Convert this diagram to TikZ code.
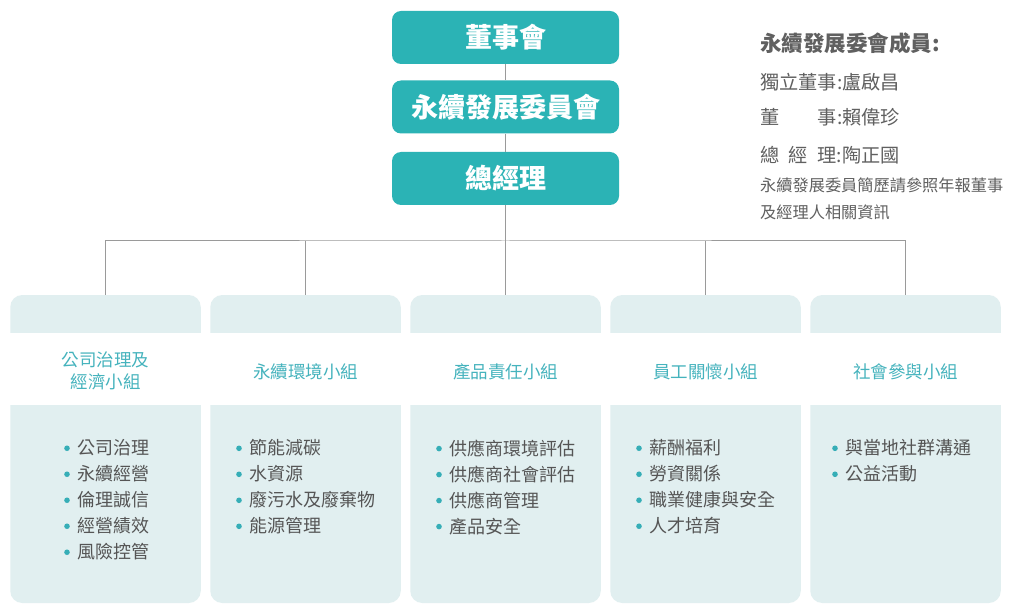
\documentclass[tikz,border=0pt]{standalone}
\usepackage{fontspec}
\setmainfont{Noto Sans CJK TC}
\definecolor{teal1}{HTML}{2BB3B5}
\definecolor{pale}{HTML}{E1EFF0}
\definecolor{headc}{HTML}{45B3BD}
\definecolor{bodyc}{HTML}{555555}
\definecolor{sidec}{HTML}{606060}
\definecolor{bul}{HTML}{36AEB7}
\definecolor{linec}{HTML}{9A9A9A}
\newcommand\bl{\tikz[baseline=0pt,x=1pt,y=1pt]\fill[bul](2.8,6.6) circle (2.8);\hspace{8pt}}
\begin{document}
\begin{tikzpicture}[x=1pt,y=-1pt,
  topbox/.style={fill=teal1, rounded corners=9pt, minimum width=227pt, minimum height=53pt, inner sep=0pt, text=white, font=\bfseries\fontsize{27}{30}\selectfont},
  colbox/.style={fill=pale, rounded corners=12pt, minimum width=190.5pt, minimum height=308pt, inner sep=0pt},
  headtxt/.style={text=headc, align=center, inner sep=0pt, font=\fontsize{17.5}{22}\selectfont},
  listtxt/.style={text=bodyc, align=left, inner sep=0pt, anchor=north, font=\fontsize{18}{26}\selectfont},
  sidetxt/.style={text=sidec, anchor=west, inner sep=0pt},
  conn/.style={draw=linec, line width=1pt}]
\fill[white] (0,0) rectangle (1014,612);
\useasboundingbox (0,0) rectangle (1014,612);

% top boxes
\node[topbox] (b1) at (505.5,37.5) {董事會};
\node[topbox] (b2) at (505.5,107) {永續發展委員會};
\node[topbox] (b3) at (505.5,178.5) {總經理};

% columns
\foreach \i/\cx in {1/105.5,2/305.5,3/505.5,4/705.5,5/905.5}{
  \node[colbox] (c\i) at (\cx,449) {};
  \fill[white] (c\i.west |- 0,333) rectangle (c\i.east |- 0,405);
}

% connectors
\coordinate (bus) at (505.5,241);
\draw[conn] (b1) -- (b2);
\draw[conn] (b2) -- (b3);
\draw[conn] (b3) -- (c3);
\draw[conn] (c1.north) |- (bus) -| (c5.north);
\draw[conn] (c2.north) -- (c2.north |- bus);
\draw[conn] (c4.north) -- (c4.north |- bus);

% headers
\node[headtxt] (h1) at (105.5,371) {公司治理及\\經濟小組};
\node[headtxt] (h2) at (305.5,372) {永續環境小組};
\node[headtxt] (h3) at (505.5,372) {產品責任小組};
\node[headtxt] (h4) at (705.5,372) {員工關懷小組};
\node[headtxt] (h5) at (905.5,372) {社會參與小組};

% lists
\node[listtxt] (l1) at (107,439.5) {\bl 公司治理\\\bl 永續經營\\\bl 倫理誠信\\\bl 經營績效\\\bl 風險控管};
\node[listtxt] (l2) at (306,439.5) {\bl 節能減碳\\\bl 水資源\\\bl 廢污水及廢棄物\\\bl 能源管理};
\node[listtxt] (l3) at (506,439.5) {\bl 供應商環境評估\\\bl 供應商社會評估\\\bl 供應商管理\\\bl 產品安全};
\node[listtxt] (l4) at (706,439.5) {\bl 薪酬福利\\\bl 勞資關係\\\bl 職業健康與安全\\\bl 人才培育};
\node[listtxt] (l5) at (902,439.5) {\bl 與當地社群溝通\\\bl 公益活動};

% side text
\node[sidetxt, font=\bfseries\fontsize{21.5}{24}\selectfont] (s0) at (760,43) {永續發展委會成員:};
\node[sidetxt, font=\fontsize{19.2}{22}\selectfont] (s1) at (760,82) {獨立董事:盧啟昌};
\node[sidetxt, font=\fontsize{19.2}{22}\selectfont] (s2) at (760,117) {董\hspace{2em}事:賴偉珍};
\node[sidetxt, font=\fontsize{19.2}{22}\selectfont] (s3) at (760,155) {總\hspace{0.5em}經\hspace{0.5em}理:陶正國};
\node[sidetxt, font=\fontsize{16.2}{18}\selectfont] (s4) at (760,185) {永續發展委員簡歷請參照年報董事};
\node[sidetxt, font=\fontsize{16.2}{18}\selectfont] (s5) at (760,212) {及經理人相關資訊};
\end{tikzpicture}
\end{document}
